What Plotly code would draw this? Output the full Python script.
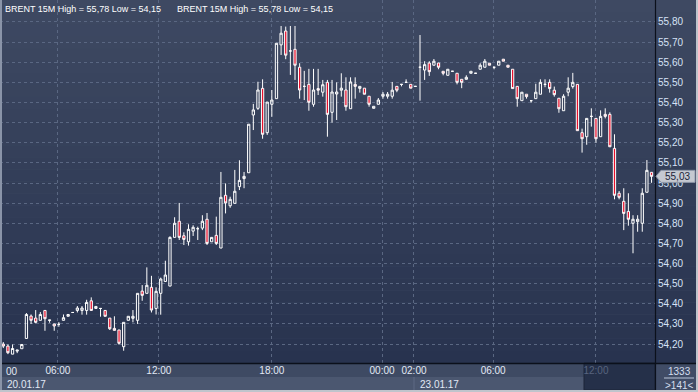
import plotly.graph_objects as go

# ---------------- data ----------------
bars = list(range(141))
opens = [54.20, 54.19, 54.15, 54.165, 54.177, 54.228, 54.339, 54.329, 54.318, 54.367,
         54.32, 54.30, 54.298, 54.318, 54.338, 54.357, 54.367, 54.367, 54.367, 54.415,
         54.377, 54.377, 54.367, 54.329, 54.278, 54.270, 54.187, 54.318, 54.328, 54.318,
         54.463, 54.452, 54.482, 54.377, 54.452, 54.511, 54.488, 54.730, 54.810, 54.738,
         54.708, 54.761, 54.773, 54.776, 54.820, 54.708, 54.740, 54.677, 54.939, 54.887,
         54.899, 54.982, 55.022, 55.051, 55.338, 55.371, 55.470, 55.250, 55.391, 55.419,
         55.686, 55.755, 55.656, 55.664, 55.575, 55.480, 55.490, 55.391, 55.469, 55.451,
         55.500, 55.351, 55.442, 55.461, 55.462, 55.369, 55.490, 55.470, 55.471, 55.431,
         55.371, 55.391, 55.431, 55.431, 55.431, 55.480, 55.490, 55.500, 55.490, 55.480,
         55.575, 55.561, 55.596, 55.585, 55.596, 55.555, 55.535, 55.555, 55.545, 55.515,
         55.515, 55.545, 55.545, 55.565, 55.575, 55.595, 55.575, 55.585, 55.615, 55.585,
         55.565, 55.480, 55.409, 55.441, 55.409, 55.419, 55.441, 55.490, 55.500, 55.461,
         55.421, 55.359, 55.451, 55.479, 55.490, 55.250, 55.230, 55.331, 55.321, 55.230,
         55.341, 55.341, 55.172, 54.949, 54.909, 54.859, 54.800, 54.808, 54.800, 54.954,
         55.053]
highs = [54.21, 54.198, 54.198, 54.17, 54.198, 54.354, 54.347, 54.369, 54.359, 54.367,
         54.32, 54.30, 54.309, 54.347, 54.347, 54.357, 54.389, 54.389, 54.420, 54.432,
         54.387, 54.377, 54.367, 54.329, 54.338, 54.270, 54.308, 54.338, 54.369, 54.452,
         54.493, 54.581, 54.539, 54.482, 54.53, 54.614, 54.735, 54.830, 54.901, 54.755,
         54.795, 54.790, 54.783, 54.840, 54.851, 54.730, 54.833, 55.055, 54.998, 54.932,
         55.065, 55.113, 55.055, 55.292, 55.393, 55.503, 55.515, 55.402, 55.462, 55.694,
         55.78, 55.777, 55.78, 55.78, 55.595, 55.557, 55.567, 55.567, 55.567, 55.512,
         55.512, 55.512, 55.500, 55.545, 55.525, 55.525, 55.525, 55.480, 55.471, 55.431,
         55.381, 55.422, 55.452, 55.452, 55.502, 55.480, 55.490, 55.515, 55.490, 55.480,
         55.735, 55.605, 55.605, 55.616, 55.596, 55.555, 55.565, 55.555, 55.545, 55.515,
         55.535, 55.555, 55.545, 55.595, 55.616, 55.595, 55.575, 55.605, 55.616, 55.585,
         55.565, 55.480, 55.451, 55.441, 55.409, 55.493, 55.515, 55.515, 55.515, 55.479,
         55.421, 55.441, 55.525, 55.547, 55.490, 55.270, 55.321, 55.371, 55.321, 55.361,
         55.371, 55.351, 55.242, 54.960, 54.974, 54.949, 54.840, 54.840, 54.974, 55.114,
         55.053]
lows = [54.18, 54.15, 54.15, 54.155, 54.177, 54.228, 54.30, 54.303, 54.318, 54.266,
        54.306, 54.266, 54.286, 54.318, 54.338, 54.357, 54.357, 54.346, 54.346, 54.367,
        54.377, 54.336, 54.338, 54.27, 54.268, 54.197, 54.167, 54.318, 54.308, 54.30,
        54.415, 54.452, 54.357, 54.347, 54.346, 54.511, 54.488, 54.730, 54.717, 54.692,
        54.689, 54.737, 54.717, 54.766, 54.692, 54.708, 54.692, 54.677, 54.849, 54.877,
        54.899, 54.965, 54.974, 55.051, 55.263, 55.363, 55.220, 55.239, 55.329, 55.419,
        55.636, 55.615, 55.537, 55.512, 55.419, 55.412, 55.359, 55.379, 55.437, 55.429,
        55.230, 55.30, 55.313, 55.429, 55.359, 55.369, 55.419, 55.449, 55.441, 55.379,
        55.371, 55.391, 55.419, 55.419, 55.419, 55.451, 55.480, 55.500, 55.471, 55.480,
        55.409, 55.512, 55.532, 55.585, 55.565, 55.535, 55.535, 55.555, 55.490, 55.471,
        55.515, 55.545, 55.545, 55.565, 55.575, 55.585, 55.565, 55.585, 55.605, 55.575,
        55.469, 55.379, 55.409, 55.419, 55.399, 55.419, 55.441, 55.476, 55.449, 55.429,
        55.349, 55.359, 55.431, 55.469, 55.260, 55.151, 55.190, 55.280, 55.200, 55.230,
        55.321, 55.180, 54.919, 54.919, 54.766, 54.788, 54.651, 54.758, 54.758, 54.954,
        55.001]
closes = [54.19, 54.157, 54.178, 54.17, 54.198, 54.347, 54.318, 54.308, 54.347, 54.326,
          54.318, 54.29, 54.298, 54.331, 54.347, 54.357, 54.379, 54.379, 54.407, 54.367,
          54.387, 54.377, 54.338, 54.276, 54.268, 54.204, 54.308, 54.338, 54.338, 54.452,
          54.442, 54.492, 54.369, 54.462, 54.523, 54.543, 54.730, 54.800, 54.730, 54.720,
          54.770, 54.780, 54.773, 54.810, 54.700, 54.730, 54.700, 54.929, 54.901, 54.919,
          54.959, 55.013, 55.033, 55.292, 55.363, 55.462, 55.242, 55.402, 55.412, 55.694,
          55.744, 55.635, 55.656, 55.585, 55.462, 55.480, 55.401, 55.462, 55.461, 55.488,
          55.341, 55.452, 55.452, 55.471, 55.379, 55.502, 55.480, 55.480, 55.441, 55.391,
          55.381, 55.412, 55.441, 55.441, 55.461, 55.461, 55.490, 55.500, 55.471, 55.480,
          55.575, 55.588, 55.553, 55.605, 55.575, 55.545, 55.565, 55.555, 55.500, 55.500,
          55.525, 55.555, 55.545, 55.585, 55.605, 55.585, 55.575, 55.605, 55.605, 55.575,
          55.469, 55.419, 55.451, 55.429, 55.409, 55.451, 55.500, 55.490, 55.469, 55.439,
          55.369, 55.431, 55.471, 55.500, 55.260, 55.220, 55.321, 55.331, 55.220, 55.331,
          55.331, 55.180, 54.939, 54.929, 54.849, 54.820, 54.820, 54.820, 54.949, 55.063,
          55.033]

time_tick_pos = [11.8, 33.6, 58.0, 81.8, 88.7, 105.8, 128.0]
time_tick_text = ["06:00", "12:00", "18:00", "00:00", "02:00", "06:00", "12:00"]
date_labels = ["20.01.17", "23.01.17"]
price_ticks = [54.20, 54.30, 54.40, 54.50, 54.60, 54.70, 54.80, 54.90, 55.00,
               55.10, 55.20, 55.30, 55.40, 55.50, 55.60, 55.70, 55.80]
title_text = "BRENT 15M High = 55,78 Low = 54,15"
last_price = closes[-1]
bar_count_text = ">141<"
volume_text = "1333"

highs = [max(h, o, c) for h, o, c in zip(highs, opens, closes)]
lows = [min(l, o, c) for l, o, c in zip(lows, opens, closes)]

# ---------------- layout geometry ----------------
W, H = 698, 392
ML, MR, MT, MB = 0, 43, 0, 29
PW, PH = W - ML - MR, H - MT - MB


def px_x(px):
    return (px - ML) / PW


def px_y(py):
    return (H - MB - py) / PH


FONT = "Liberation Sans, Arial, sans-serif"

fig = go.Figure()
fig.add_trace(go.Candlestick(
    x=bars, open=opens, high=highs, low=lows, close=closes,
    increasing=dict(line=dict(color="#FFFFFF", width=1), fillcolor="rgba(0,0,0,0)"),
    decreasing=dict(line=dict(color="#FFFFFF", width=1), fillcolor="#E8102C"),
    whiskerwidth=0, showlegend=False, hoverinfo="skip",
))

shapes = []
# vertical gradient background of the chart area (incl. right price scale)
top = (62, 73, 98)
bot = (40, 51, 79)
n = 30
for k in range(n):
    t = k / (n - 1)
    col = tuple(round(top[j] + (bot[j] - top[j]) * t) for j in range(3))
    shapes.append(dict(type="rect", xref="paper", yref="paper",
                       x0=0, x1=px_x(W), y0=1 - (k + 1) / n, y1=1 - k / n,
                       fillcolor="rgb(%d,%d,%d)" % col, line=dict(width=0), layer="below"))
# date row
shapes.append(dict(type="rect", xref="paper", yref="paper", x0=0, x1=px_x(W),
                   y0=px_y(390), y1=px_y(377), fillcolor="#4B5770",
                   line=dict(width=0), layer="below"))
# date separators
shapes.append(dict(type="line", xref="paper", yref="paper", x0=px_x(414), x1=px_x(414),
                   y0=px_y(390), y1=px_y(377), line=dict(color="#5E6A84", width=1), layer="below"))
# dark block in the time axis
shapes.append(dict(type="rect", xref="paper", yref="paper", x0=px_x(584), x1=px_x(655),
                   y0=px_y(390), y1=px_y(363), fillcolor="#253049",
                   line=dict(color="#1C2538", width=1), layer="below"))
# bottom-right box
shapes.append(dict(type="rect", xref="paper", yref="paper", x0=px_x(656), x1=px_x(W),
                   y0=px_y(390), y1=px_y(363), fillcolor="#404C66",
                   line=dict(width=0), layer="below"))
shapes.append(dict(type="line", xref="paper", yref="paper", x0=px_x(664), x1=px_x(694),
                   y0=px_y(378), y1=px_y(378), line=dict(color="#B8C4D8", width=1), layer="above"))
# black frame separators
shapes.append(dict(type="line", xref="paper", yref="paper", x0=0, x1=px_x(W),
                   y0=px_y(363.5), y1=px_y(363.5), line=dict(color="#0B101B", width=1.5), layer="above"))
shapes.append(dict(type="line", xref="paper", yref="paper", x0=px_x(655.5), x1=px_x(655.5),
                   y0=px_y(H), y1=1, line=dict(color="#0B101B", width=1.2), layer="above"))
# outer borders
shapes.append(dict(type="line", xref="paper", yref="paper", x0=px_x(1), x1=px_x(1),
                   y0=px_y(H), y1=1, line=dict(color="#8A94A8", width=2), layer="above"))
shapes.append(dict(type="line", xref="paper", yref="paper", x0=px_x(697), x1=px_x(697),
                   y0=px_y(H), y1=1, line=dict(color="#BFC4CC", width=2), layer="above"))
shapes.append(dict(type="line", xref="paper", yref="paper", x0=0, x1=px_x(W),
                   y0=px_y(391), y1=px_y(391), line=dict(color="#BFC4CC", width=2), layer="above"))
# current price marker
dy = 6 / (PH / (55.909 - 54.106))
shapes.append(dict(type="path", xref="paper", yref="y",
                   path="M %f,%f L %f,%f L %f,%f L %f,%f L %f,%f Z" % (
                       px_x(656), last_price,
                       px_x(661), last_price + dy,
                       px_x(695), last_price + dy,
                       px_x(695), last_price - dy,
                       px_x(661), last_price - dy),
                   fillcolor="#C5C9D1", line=dict(color="#8F98AA", width=1), layer="above"))

annotations = []
for xx in (3, 175):
    annotations.append(dict(xref="paper", yref="paper", x=px_x(xx), y=px_y(9),
                            text=title_text, showarrow=False, xanchor="left", yanchor="middle",
                            font=dict(family=FONT, size=9, color="#FFFFFF")))
annotations.append(dict(xref="paper", yref="paper", x=px_x(4), y=px_y(371), text="00",
                        showarrow=False, xanchor="left", yanchor="middle",
                        font=dict(family=FONT, size=10, color="#E2E9F5")))
for txt, xx in zip(date_labels, (5, 418)):
    annotations.append(dict(xref="paper", yref="paper", x=px_x(xx), y=px_y(384), text=txt,
                            showarrow=False, xanchor="left", yanchor="middle",
                            font=dict(family=FONT, size=10, color="#E2E9F5")))
annotations.append(dict(xref="paper", yref="paper", x=px_x(679), y=px_y(371), text=volume_text,
                        showarrow=False, xanchor="center", yanchor="middle",
                        font=dict(family=FONT, size=10, color="#D4DEEE")))
annotations.append(dict(xref="paper", yref="paper", x=px_x(679), y=px_y(385), text=bar_count_text,
                        showarrow=False, xanchor="center", yanchor="middle",
                        font=dict(family=FONT, size=10, color="#D4DEEE")))
annotations.append(dict(xref="paper", yref="y", x=px_x(677), y=last_price,
                        text=("%.2f" % last_price).replace(".", ","),
                        showarrow=False, xanchor="center", yanchor="middle",
                        font=dict(family=FONT, size=10, color="#1B2439")))

ticktext = [t if i < len(time_tick_text) - 1 else '<span style="color:#58647E">%s</span>' % t
            for i, t in enumerate(time_tick_text)]

fig.update_layout(
    width=W, height=H, autosize=False,
    margin=dict(l=ML, r=MR, t=MT, b=MB, pad=0),
    paper_bgcolor="#3E4A63", plot_bgcolor="rgba(0,0,0,0)",
    separators=",.",
    font=dict(family=FONT, size=10, color="#E2E9F5"),
    shapes=shapes, annotations=annotations, showlegend=False,
    xaxis=dict(range=[-0.71, 140.75], rangeslider=dict(visible=False),
               tickmode="array", tickvals=time_tick_pos, ticktext=ticktext,
               showgrid=True, gridcolor="#5A6782", griddash="3px,3px", gridwidth=1,
               zeroline=False, showline=False, ticks="",
               tickfont=dict(family=FONT, size=10, color="#E2E9F5")),
    yaxis=dict(range=[54.106, 55.909], side="right", tickmode="array",
               tickvals=price_ticks, tickformat=".2f",
               showgrid=True, gridcolor="#5A6782", griddash="3px,3px", gridwidth=1,
               zeroline=False, showline=False, ticks="", ticklabelstandoff=2,
               tickfont=dict(family=FONT, size=10, color="#D6E2F6")),
)

fig.write_html("out.html", config={"displayModeBar": False},
               post_script="document.body.style.margin='0';document.body.style.overflow='hidden';")
